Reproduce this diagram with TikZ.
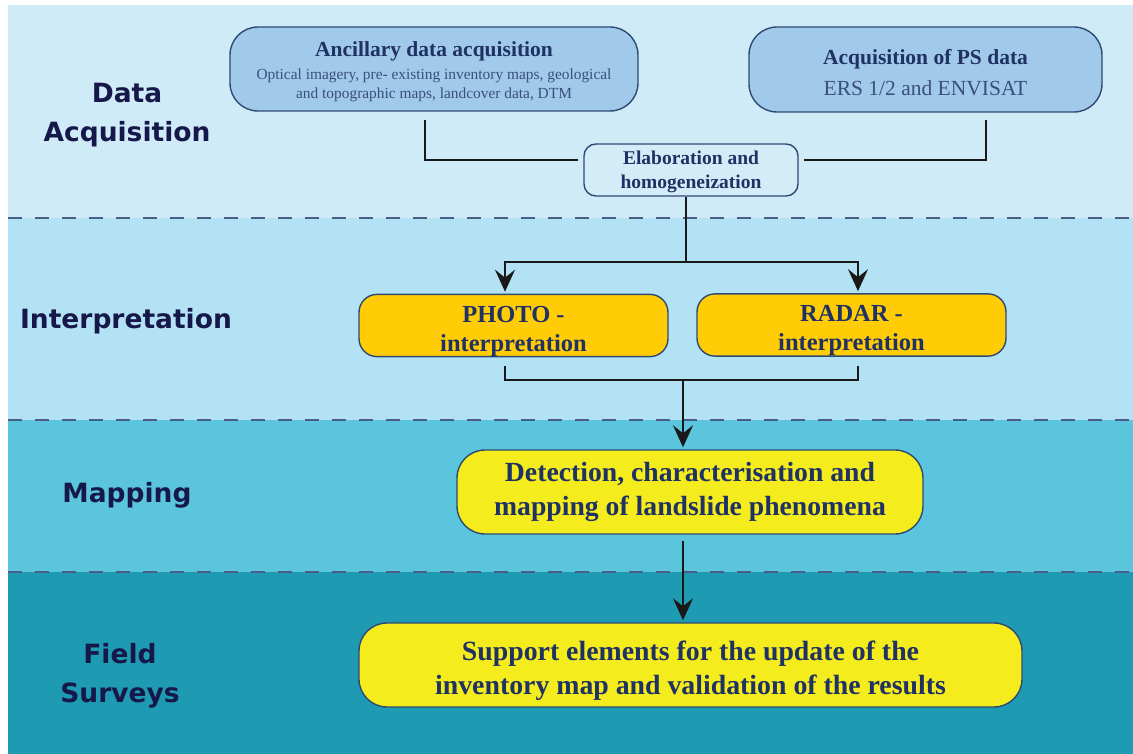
\documentclass[tikz,border=0pt]{standalone}
\usepackage{fontspec}
\setmainfont{Liberation Serif}
\newfontfamily\stagefont{DejaVu Sans}
\usetikzlibrary{arrows.meta,positioning}
\definecolor{bandA}{HTML}{D0EBF8}
\definecolor{bandB}{HTML}{B3E2F5}
\definecolor{bandC}{HTML}{5CC5DE}
\definecolor{bandD}{HTML}{1E9BB2}
\definecolor{dashcol}{HTML}{4A5D88}
\definecolor{edgecol}{HTML}{2E4A72}
\definecolor{txtcol}{HTML}{1F3263}
\definecolor{subcol}{HTML}{3B4F7A}
\definecolor{lblcol}{HTML}{17184A}
\definecolor{boxblue}{HTML}{A0C9EA}
\definecolor{boxpale}{HTML}{D3ECF8}
\definecolor{boxgold}{HTML}{FFCC05}
\definecolor{boxyel}{HTML}{F4EC1C}
% strut that pushes a box's text down
\newcommand{\lowstrut}[1]{\rule{0pt}{#1}}

\begin{document}
\begin{tikzpicture}[x=1pt,y=-1pt]
\tikzset{
  stage/.style={font=\stagefont\bfseries\fontsize{26.5}{39}\selectfont,text=lblcol,align=center},
  procbox/.style={draw=edgecol,line width=1.4pt,rectangle,rounded corners=#1,text=txtcol,align=center,inner sep=0pt},
  link/.style={line width=2pt,draw=black!90},
  directed/.style={link,-{Stealth[length=22pt,width=20pt,inset=8pt]},shorten >=2pt},
  bandline/.style={dashcol,line width=2pt,dash pattern=on 14pt off 13pt}
}
\useasboundingbox (0,0) rectangle (1133,754);
% stage bands
\fill[bandA] (8,5) rectangle (1133,218);
\fill[bandB] (8,218) rectangle (1133,420);
\fill[bandC] (8,420) rectangle (1133,572);
\fill[bandD] (8,572) rectangle (1133,754);
\draw[bandline] (8,218) -- (1133,218);
\draw[bandline] (8,420) -- (1133,420);
\draw[bandline] (8,572) -- (1133,572);
% stage labels
\node[stage] (n_lblacq) at (127,115) {Data\\Acquisition};
\node[stage] (n_lblint) at (126,321) {Interpretation};
\node[stage] (n_lblmap) at (127,495) {Mapping};
\node[stage] (n_lblfld) at (120,676) {Field\\Surveys};
% boxes
\node[procbox=28pt,fill=boxblue,minimum width=408pt,minimum height=84pt,font=\fontsize{15.4}{19}\selectfont] (n_anc) at (434,69)
  {{\fontsize{21.5}{24}\selectfont\bfseries\lowstrut{21pt}Ancillary data acquisition}\\[4pt]
   \textcolor{subcol}{Optical imagery, pre- existing inventory maps, geological}\\
   \textcolor{subcol}{and topographic maps, landcover data, DTM}};
\node[procbox=28pt,fill=boxblue,minimum width=353pt,minimum height=85pt,font=\fontsize{21.5}{31}\selectfont] (n_ps) at (925.5,69.5)
  {\lowstrut{21pt}\textbf{Acquisition of PS data}\\\textcolor{subcol}{ERS 1/2 and ENVISAT}};
\node[procbox=12pt,fill=boxpale,minimum width=214pt,minimum height=52pt,font=\bfseries\fontsize{19.5}{24}\selectfont] (n_elab) at (691,170)
  {\lowstrut{17pt}Elaboration and\\homogeneization};
\node[procbox=18pt,fill=boxgold,minimum width=309pt,minimum height=61pt,font=\bfseries\fontsize{24.5}{29}\selectfont] (n_photo) at (513.5,325.5)
  {\lowstrut{28pt}PHOTO -\\interpretation};
\node[procbox=18pt,fill=boxgold,minimum width=309pt,minimum height=61pt,font=\bfseries\fontsize{24.5}{29}\selectfont] (n_radar) at (851.5,325)
  {\lowstrut{28pt}RADAR -\\interpretation};
\node[procbox=28pt,fill=boxyel,minimum width=466pt,minimum height=84pt,font=\bfseries\fontsize{27.7}{34}\selectfont] (n_detect) at (690,492)
  {Detection, characterisation and\\mapping of landslide phenomena};
\node[procbox=28pt,fill=boxyel,minimum width=663pt,minimum height=84pt,font=\bfseries\fontsize{27.8}{34}\selectfont] (n_support) at (690.5,665)
  {\lowstrut{31pt}Support elements for the update of the\\inventory map and validation of the results};
% connectors
\coordinate (c_ancfoot) at (425,120);
\coordinate (c_psfoot) at (986,120);
\coordinate (c_split) at (686,262);
\coordinate (c_merge) at (683,380);
\draw[link] (c_ancfoot) |- ([xshift=-5pt,yshift=10pt]n_elab.west);
\draw[link] (c_psfoot) |- ([xshift=5pt,yshift=10pt]n_elab.east);
\draw[link] (n_elab.south -| c_split) -- (c_split);
\draw[directed] (c_split) -| ([xshift=-8.5pt]n_photo.north);
\draw[directed] (c_split) -| ([xshift=6.5pt]n_radar.north);
\draw[link] ([xshift=-8.5pt,yshift=-9pt]n_photo.south) |- (c_merge) -| ([xshift=6.5pt,yshift=-9pt]n_radar.south);
\draw[directed] (c_merge) -- (n_detect.north -| c_merge);
\draw[directed,shorten <=6pt] (n_detect.south -| c_merge) -- (n_support.north -| c_merge);
\end{tikzpicture}
\end{document}
